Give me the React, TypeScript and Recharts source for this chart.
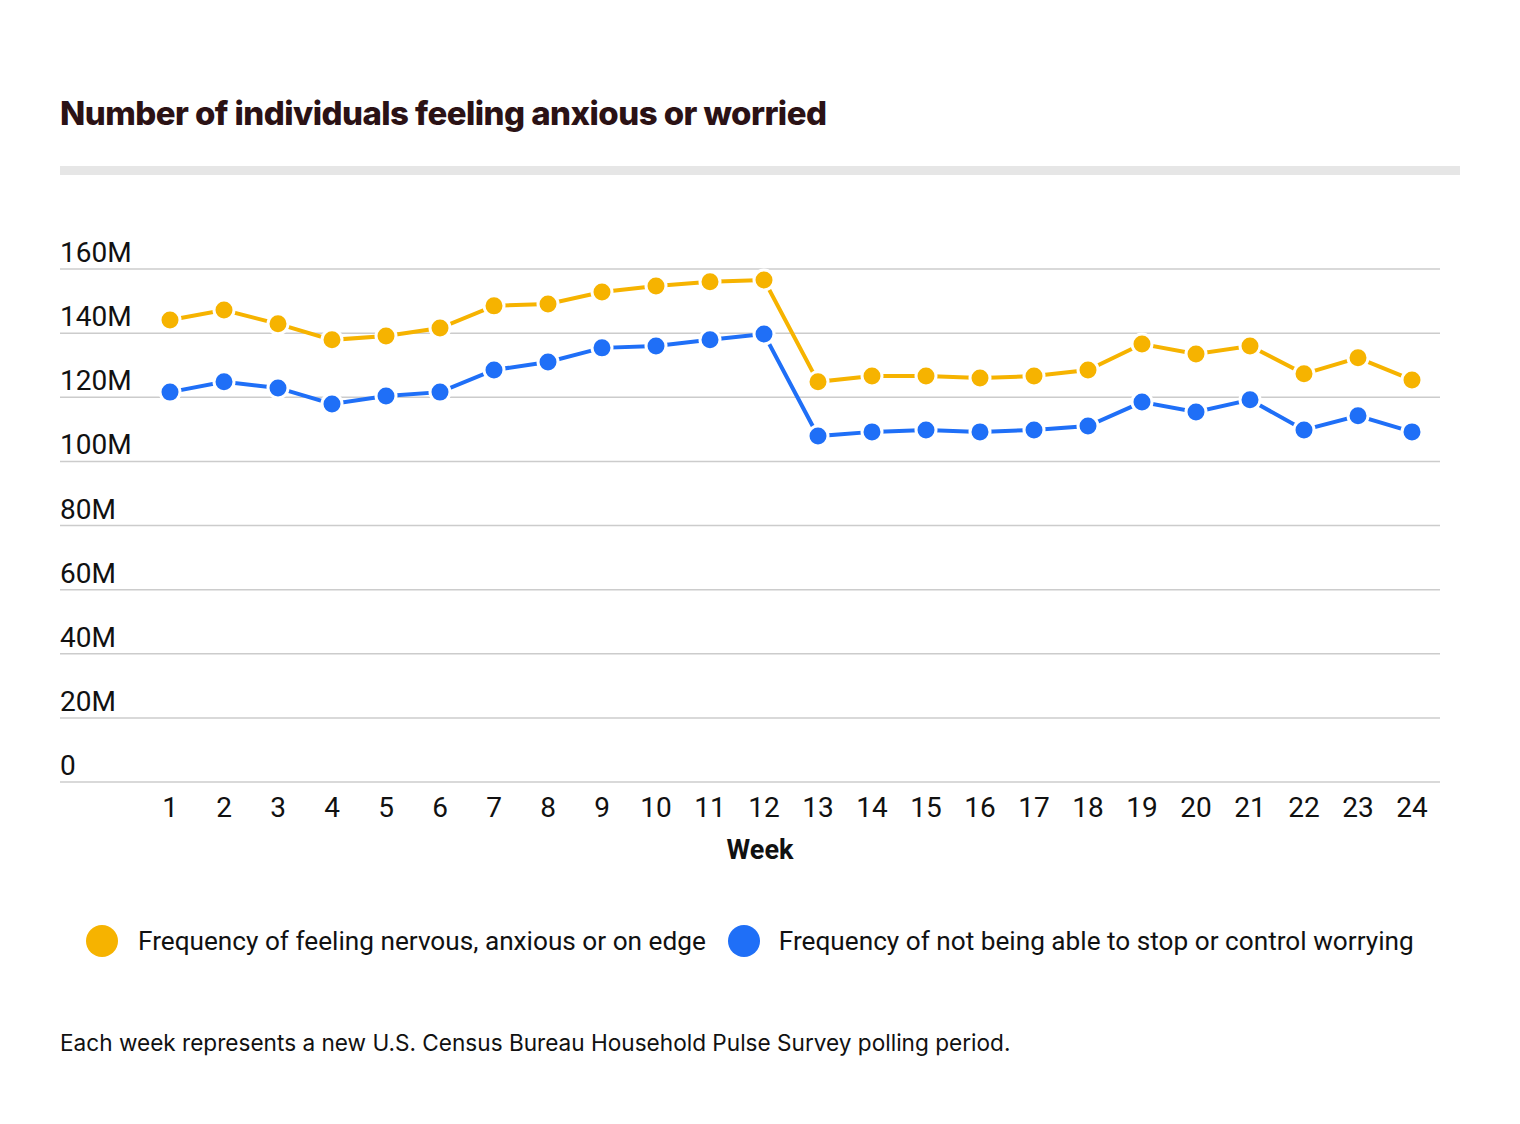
import { LineChart, Line, XAxis, YAxis, CartesianGrid } from "recharts";

const weeks = [1, 2, 3, 4, 5, 6, 7, 8, 9, 10, 11, 12, 13, 14, 15, 16, 17, 18, 19, 20, 21, 22, 23, 24];

// millions of people
const nervous = [144.1, 147.2, 142.9, 137.9, 139.1, 141.6, 148.5, 149.1, 152.8, 154.7, 156.0, 156.6,
  124.8, 126.6, 126.6, 126.0, 126.6, 128.5, 136.6, 133.5, 136.0, 127.3, 132.3, 125.4];
const worrying = [121.6, 124.8, 122.9, 117.9, 120.4, 121.6, 128.5, 131.0, 135.4, 136.0, 137.9, 139.7,
  107.9, 109.2, 109.8, 109.2, 109.8, 111.0, 118.5, 115.4, 119.2, 109.8, 114.2, 109.2];

const yTicks = [0, 20, 40, 60, 80, 100, 120, 140, 160];

const seriesNames = [
  "Frequency of feeling nervous, anxious or on edge",
  "Frequency of not being able to stop or control worrying",
];

const YELLOW = "#f6b300";
const BLUE = "#1f6ff7";

const data = weeks.map((w, i) => ({ week: w, nervous: nervous[i], worrying: worrying[i] }));

const YTick = (props: any) => {
  const { y, payload } = props;
  return (
    <text x={60} y={y - 7} fontSize={28} fontFamily="Roboto" fill="#111">
      {payload.value === 0 ? "0" : `${payload.value}M`}
    </text>
  );
};

const XTick = (props: any) => {
  const { x, y, payload } = props;
  return (
    <text x={x} y={y + 27} textAnchor="middle" fontSize={28} fontFamily="Roboto" fill="#111">
      {payload.value}
    </text>
  );
};

export default function App() {
  return (
    <div style={{ position: "absolute", left: 0, top: 0, width: 1520, height: 1124, background: "#fff" }}>
      <div
        style={{
          position: "absolute",
          left: 60,
          top: 93,
          fontFamily: "Inter",
          fontWeight: 800,
          fontSize: 33,
          letterSpacing: -0.55,
          color: "#2b1215",
          whiteSpace: "nowrap",
        }}
      >
        Number of individuals feeling anxious or worried
      </div>
      <div style={{ position: "absolute", left: 60, top: 166, width: 1400, height: 9, background: "#e6e6e6" }} />
      <div style={{ position: "absolute", left: 0, top: 0 }}>
        <LineChart width={1520} height={900} data={data} margin={{ top: 269, right: 80, bottom: 88, left: 59 }}>
          <CartesianGrid vertical={false} stroke="#cccccc" strokeWidth={1.5} x={60} width={1380} />
          <XAxis
            dataKey="week"
            type="number"
            domain={[1, 24]}
            ticks={weeks}
            height={30}
            padding={{ left: 110, right: 28 }}
            axisLine={false}
            tickLine={false}
            tick={(p: any) => <XTick {...p} />}
            interval={0}
          />
          <YAxis
            width={1}
            domain={[0, 160]}
            ticks={yTicks}
            axisLine={false}
            tickLine={false}
            interval={0}
            tick={(p: any) => <YTick {...p} />}
          />
          <Line
            dataKey="nervous"
            stroke={YELLOW}
            strokeWidth={4}
            dot={{ r: 10, fill: YELLOW, stroke: "#fff", strokeWidth: 3 }}
            isAnimationActive={false}
          />
          <Line
            dataKey="worrying"
            stroke={BLUE}
            strokeWidth={4}
            dot={{ r: 10, fill: BLUE, stroke: "#fff", strokeWidth: 3 }}
            isAnimationActive={false}
          />
        </LineChart>
      </div>
      <div
        style={{
          position: "absolute",
          left: 760,
          top: 834,
          transform: "translateX(-50%)",
          fontFamily: "Roboto",
          fontWeight: 700,
          fontSize: 27,
          color: "#111",
        }}
      >
        Week
      </div>
      <div
        style={{
          position: "absolute",
          left: 0,
          top: 925,
          width: 1520,
          display: "flex",
          alignItems: "center",
          fontFamily: "Roboto",
          fontSize: 26.2,
          color: "#111",
          whiteSpace: "nowrap",
        }}
      >
        <span style={{ width: 32, height: 32, borderRadius: 16, background: YELLOW, marginLeft: 86, marginRight: 20 }} />
        <span>{seriesNames[0]}</span>
        <span style={{ width: 32, height: 32, borderRadius: 16, background: BLUE, marginLeft: 22, marginRight: 19 }} />
        <span>{seriesNames[1]}</span>
      </div>
      <div
        style={{
          position: "absolute",
          left: 60,
          top: 1029,
          fontFamily: "Inter",
          fontSize: 22.6,
          color: "#111",
          whiteSpace: "nowrap",
        }}
      >
        Each week represents a new U.S. Census Bureau Household Pulse Survey polling period.
      </div>
    </div>
  );
}
